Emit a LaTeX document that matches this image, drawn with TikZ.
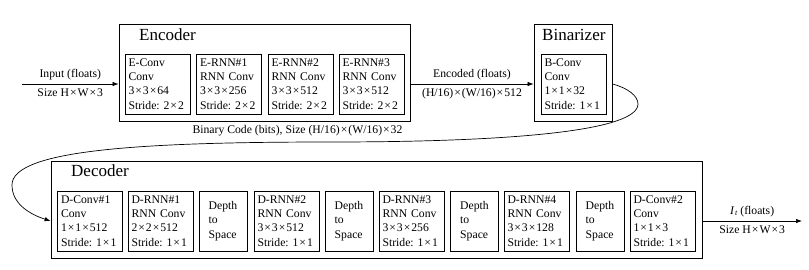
\documentclass[tikz,border=0pt]{standalone}
\usepackage{fontspec}
\setmainfont{Liberation Serif}
\usetikzlibrary{arrows.meta,calc}
\frenchspacing
\newcommand{\X}{\kern1.0pt×\kern1.0pt}
\begin{document}
\begin{tikzpicture}[x=1pt,y=-1pt,
  txt/.style={font=\fontsize{11.7}{14.4}\selectfont\frenchspacing},
  outerbox/.style={draw,line width=0.8pt,inner sep=0pt},
  layer/.style={draw,line width=0.8pt,txt,minimum height=60pt,text width=58pt,align=left,inner xsep=3.5pt,inner ysep=0pt},
  d2s/.style={draw,line width=0.8pt,txt,minimum height=60pt,minimum width=48pt,align=left,inner sep=0pt},
  title/.style={font=\fontsize{17}{20}\selectfont,anchor=base west,inner sep=0pt},
  lbl/.style={txt,inner sep=3.9pt},
  arr/.style={line width=0.7pt,-{Latex[length=6pt,width=4.5pt]}}
]
\useasboundingbox (0,0) rectangle (809,269);

% Encoder
\node[outerbox,minimum width=291pt,minimum height=97pt] (enc) at (264.5,72.5) {};
\node[title] (enctitle) at (139,40) {Encoder};
\node[layer] (econv) at (157.5,84) {E-Conv\\Conv\\3\X3\X64\\Stride: 2\X2};
\node[layer] (ernn1) at (229,84) {E-RNN\#1\\RNN Conv\\3\X3\X256\\Stride: 2\X2};
\node[layer] (ernn2) at (300.5,84) {E-RNN\#2\\RNN Conv\\3\X3\X512\\Stride: 2\X2};
\node[layer] (ernn3) at (371.5,84) {E-RNN\#3\\RNN Conv\\3\X3\X512\\Stride: 2\X2};

% Binarizer
\node[outerbox,minimum width=78pt,minimum height=97pt] (bin) at (573,72.5) {};
\node[title] (bintitle) at (542,40) {Binarizer};
\node[layer] (bconv) at (573.5,84) {B-Conv\\Conv\\1\X1\X32\\Stride: 1\X1};

% Decoder
\node[outerbox,minimum width=651pt,minimum height=97pt] (dec) at (376.5,209.5) {};
\node[title] (dectitle) at (71,176.5) {Decoder};
\node[layer] (dconv1) at (90,221) {D-Conv\#1\\Conv\\1\X1\X512\\Stride: 1\X1};
\node[layer] (drnn1) at (160.5,221) {D-RNN\#1\\RNN Conv\\2\X2\X512\\Stride: 1\X1};
\node[d2s] (ds1) at (223,221) {Depth\\to\\Space};
\node[layer] (drnn2) at (286.5,221) {D-RNN\#2\\RNN Conv\\3\X3\X512\\Stride: 1\X1};
\node[d2s] (ds2) at (349,221) {Depth\\to\\Space};
\node[layer] (drnn3) at (411.5,221) {D-RNN\#3\\RNN Conv\\3\X3\X256\\Stride: 1\X1};
\node[d2s] (ds3) at (474.5,221) {Depth\\to\\Space};
\node[layer] (drnn4) at (536.5,221) {D-RNN\#4\\RNN Conv\\3\X3\X128\\Stride: 1\X1};
\node[d2s] (ds4) at (600,221) {Depth\\to\\Space};
\node[layer] (dconv2) at (662.5,221) {D-Conv\#2\\Conv\\1\X1\X3\\Stride: 1\X1};

% free ends
\coordinate (inp) at (22,84);
\coordinate (outp) at (802,221);

% connectors
\draw[arr] (inp) -- (enc.west |- econv)
  node[midway,above,lbl] {Input (floats)}
  node[midway,below,lbl] {Size H\X W\X3};
\draw[arr] (enc.east |- ernn3) -- (bin.west |- bconv)
  node[midway,above,lbl] {Encoded (floats)}
  node[midway,below,lbl] {(H/16)\X(W/16)\X512};
\draw[arr] (dec.east |- dconv2) -- (outp)
  node[midway,above,lbl] {\textit{I}\kern0.5pt\raisebox{-1.5pt}{\fontsize{8}{8}\selectfont\textit{t}} (floats)}
  node[midway,below,lbl] {Size H\X W\X3};
\draw[arr] (bin.east |- bconv) .. controls (628,88) and (638,96) .. (638,104)
  .. controls (638,130) and (520,142) .. (330,142)
  .. controls (140,142) and (12,150) .. (12,185)
  .. controls (12,205) and (32,215) .. (dec.west |- dconv1);
\node[lbl,anchor=north] (binlbl) at (297.5,121) {Binary Code (bits), Size (H/16)\X(W/16)\X32};
\end{tikzpicture}
\end{document}
